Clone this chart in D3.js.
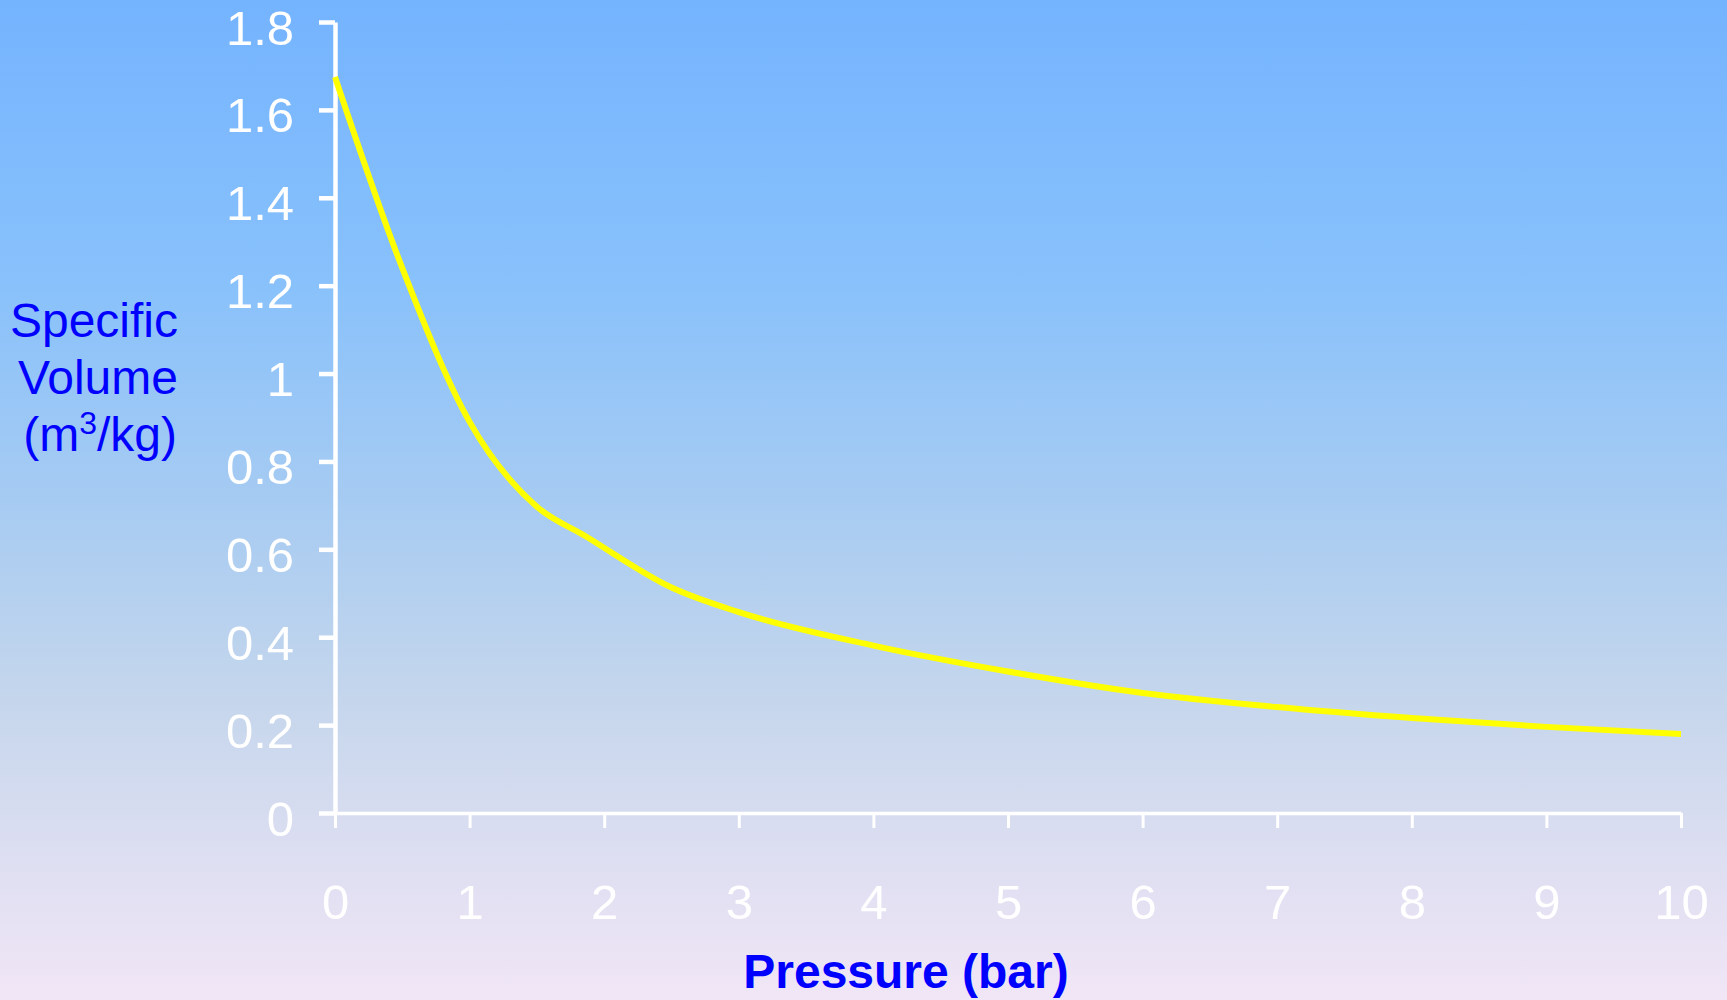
<!DOCTYPE html>
<html>
<head>
<meta charset="utf-8">
<script src="https://cdn.jsdelivr.net/npm/d3@7"></script>
<style>
  html, body { margin: 0; padding: 0; overflow: hidden; }
  svg { display: block; font-family: 'Liberation Sans', Arial, sans-serif; }
</style>
</head>
<body>
<div id="chart"></div>
<script>
// gauge pressure (bar) vs specific volume of steam (m3/kg)
const pressure = [0, 0.5, 1, 1.5, 1.85, 2.5, 3, 4, 5, 6, 7, 8, 9, 10]
const volume = [1.675, 1.24, 0.89, 0.697, 0.632, 0.513, 0.457, 0.381, 0.322, 0.273, 0.241, 0.216, 0.196, 0.18]

const xTicks = [0, 1, 2, 3, 4, 5, 6, 7, 8, 9, 10]
const yTicks = [0, 0.2, 0.4, 0.6, 0.8, 1, 1.2, 1.4, 1.6, 1.8]

const W = 1727
const H = 1000
const margin = { top: 22, left: 335, right: 46, bottom: 187 }
const fontSize = 49

const svg = d3.select('#chart').append('svg').attr('width', W).attr('height', H)

const defs = svg.append('defs')
const grad = defs.append('linearGradient').attr('id', 'bg')
  .attr('x1', 0).attr('y1', 0).attr('x2', 0).attr('y2', 1)
const stops = [
  [0, '#74b3fe'], [0.28, '#88c1fb'], [0.5, '#a6cbf2'],
  [0.7, '#c5d6ec'], [0.85, '#dcdef1'], [1, '#f1e6f6']
]
stops.forEach(([o, c]) => grad.append('stop').attr('offset', o).attr('stop-color', c))
svg.append('rect').attr('width', W).attr('height', H).attr('fill', 'url(#bg)')

const x = d3.scaleLinear().domain([0, 10]).range([margin.left, W - margin.right])
const y = d3.scaleLinear().domain([0, 1.8]).range([H - margin.bottom, margin.top])

// x axis
const xAxis = svg.append('g')
  .attr('transform', `translate(0,${y(0)})`)
  .call(d3.axisBottom(x).tickValues(xTicks).tickSize(15).tickPadding(56).tickSizeOuter(0))
xAxis.select('.domain').attr('stroke', '#fff').attr('stroke-width', 3.5)
xAxis.selectAll('.tick line').attr('stroke', '#fff').attr('stroke-width', 3)
xAxis.selectAll('.tick text')
  .attr('fill', '#fff').attr('font-size', fontSize).attr('font-family', null)

// y axis
const yAxis = svg.append('g')
  .attr('transform', `translate(${x(0)},0)`)
  .call(d3.axisLeft(y).tickValues(yTicks).tickFormat(d3.format('~g')).tickSize(16).tickPadding(25).tickSizeOuter(0))
yAxis.select('.domain').attr('stroke', '#fff').attr('stroke-width', 4.5)
yAxis.selectAll('.tick line').attr('stroke', '#fff').attr('stroke-width', 4.5)
yAxis.selectAll('.tick text')
  .attr('fill', '#fff').attr('font-size', fontSize).attr('font-family', null).attr('dy', '0.45em')

// curve
const data = pressure.map((p, i) => ({ p, v: volume[i] }))
const line = d3.line()
  .x((d) => x(d.p))
  .y((d) => y(d.v))
  .curve(d3.curveMonotoneX)
svg.append('path')
  .datum(data)
  .attr('d', line)
  .attr('fill', 'none')
  .attr('stroke', '#ffff00')
  .attr('stroke-width', 6)

// y label
const yl = svg.append('text')
  .attr('fill', '#0000ff')
  .attr('font-size', 48)
  .attr('text-anchor', 'end')
yl.append('tspan').attr('x', 178).attr('y', 337).text('Specific')
yl.append('tspan').attr('x', 178).attr('y', 394).text('Volume')
const l3 = svg.append('text')
  .attr('fill', '#0000ff')
  .attr('font-size', 48)
  .attr('text-anchor', 'end')
  .attr('x', 177).attr('y', 451)
l3.append('tspan').text('(m')
l3.append('tspan').attr('font-size', 32).attr('dy', -17).text('3')
l3.append('tspan').attr('dy', 17).text('/kg)')

// x label
svg.append('text')
  .attr('fill', '#0000ff')
  .attr('font-size', 48)
  .attr('font-weight', 'bold')
  .attr('text-anchor', 'middle')
  .attr('x', 906).attr('y', 988)
  .text('Pressure (bar)')
</script>
</body>
</html>
